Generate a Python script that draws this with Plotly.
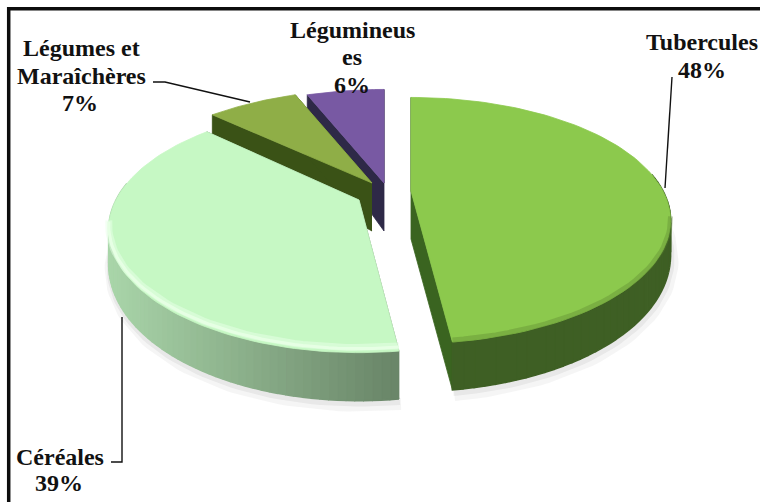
import numpy as np
import plotly.graph_objects as go

# Data, clockwise from 12 o'clock
categories = ['Tubercules', 'Céréales', 'Légumes et Maraîchères', 'Légumineuses']
shares = [48, 39, 7, 6]

# Label lines as wrapped in the chart
label_lines = [['Tubercules', '48%'],
               ['Céréales', '39%'],
               ['Légumes et', 'Maraîchères', '7%'],
               ['Légumineus', 'es', '6%']]
label_xy = [[(702, 42), (702, 70)],
            [(60, 457), (59, 483)],
            [(81, 48), (81, 76), (80, 103)],
            [(352, 30), (352, 57), (352, 85)]]
leaders = [[(672, 77), (665, 188)],
           [(111, 462), (122, 462), (122, 317)],
           [(153, 82), (165, 82), (250, 102)]]

# Look of each slice: apex of the pulled wedge, radii, colours
apex = [(411, 191), (359, 200), (372, 183), (384, 183)]
rad_x = [252, 243, 255, 255]
rad_y = [116, 116, 116, 116]
face_col = ['#8cc94d', '#c6f8c4', '#8fae47', '#7859a3']
inner_col = ['#3a6420', '#6d8a6c', '#3a5216', '#2e2947']
wall_left = ['#5f8f2f', '#aad6aa', '#3a5216', '#2e2947']   # outer wall colour at left of arc
wall_right = ['#3e5f24', '#6a8669', '#3a5216', '#2e2947']
wall_ramp = [5, 1, 1, 1]
DEPTH = 48
SIDE_DEPTH = 30
PERSP = 0.24


def project(theta, i):
    # theta clockwise from top, simple perspective so the back is smaller
    sx, cy = np.sin(theta), np.cos(theta)
    s = 1 / (1 + PERSP * cy)
    return apex[i][0] + rad_x[i] * sx * s, apex[i][1] - rad_y[i] * cy * s


def wall_depth(theta):
    # wall looks thinner at the sides than at the front
    return SIDE_DEPTH + (DEPTH - SIDE_DEPTH) * np.clip(-np.cos(theta), 0, 1)


def mix(c1, c2, t):
    a = [int(c1[k:k + 2], 16) for k in (1, 3, 5)]
    b = [int(c2[k:k + 2], 16) for k in (1, 3, 5)]
    return 'rgb(%d,%d,%d)' % tuple(a[k] + (b[k] - a[k]) * t for k in range(3))


def poly(x, y, color, width=0.8):
    return go.Scatter(x=list(x), y=list(y), mode='lines', fill='toself', fillcolor=color,
                      line=dict(color=color, width=width), hoverinfo='skip', showlegend=False)


def stroke(x, y, color, width):
    return go.Scatter(x=x, y=y, mode='lines', hoverinfo='skip', showlegend=False,
                      line=dict(color=color, width=width))


fig = go.Figure()

# Wedge angles come from the shares
edges = np.cumsum([0] + shares) / sum(shares) * 2 * np.pi

# Paint from the back to the front
for i in [3, 2, 1, 0]:
    th = np.linspace(edges[i], edges[i + 1], 90)
    ax, ay = project(th, i)
    dep = wall_depth(th)
    x0, y0 = apex[i]

    # soft shadow under the wall
    if i < 2:
        low = np.cos(th) < 0.1
        fig.add_trace(stroke(ax[low] + 2, ay[low] + dep[low] + 5, 'rgba(120,120,120,0.07)', 12))
        fig.add_trace(stroke(ax[low] + 1, ay[low] + dep[low] + 3, 'rgba(120,120,120,0.10)', 6))

    # cut faces
    for px, py, d in [(ax[0], ay[0], dep[0]), (ax[-1], ay[-1], DEPTH)]:
        fig.add_trace(poly([x0, px, px, x0], [y0, py, py + d, y0 + DEPTH], inner_col[i]))

    # outer wall as strips so the shade can change along the arc
    for k in range(0, len(th) - 1):
        if np.cos((th[k] + th[k + 1]) / 2) > 0.15:
            continue
        t = (ax[k] - ax.min()) / (ax.max() - ax.min())
        if i == 0:
            t = (ax[k] - x0) / (ax.max() - x0)
        col = mix(wall_left[i], wall_right[i], min(1, t * wall_ramp[i]))
        fig.add_trace(poly([ax[k], ax[k + 1], ax[k + 1], ax[k]],
                           [ay[k], ay[k + 1], ay[k + 1] + dep[k + 1], ay[k] + dep[k]], col, 1.6))

    # top face
    fig.add_trace(poly(np.r_[x0, ax, x0], np.r_[y0, ay, y0], face_col[i]))

    front = np.cos(th) < -0.2
    if i == 1:
        # bright bevel on the Céréales rim
        fig.add_trace(stroke(ax[front], ay[front] - 5, 'rgba(232,255,232,0.5)', 7))
        fig.add_trace(stroke(ax[front], ay[front] - 4, '#e6ffe4', 3))
    if i == 0:
        # soft dark edge on the Tubercules rim
        fig.add_trace(stroke(ax[front], ay[front] - 2, 'rgba(90,130,45,0.35)', 5))

# Labels, one annotation per line to keep the wide line pitch
for lines, spots in zip(label_lines, label_xy):
    for txt, (lx, ly) in zip(lines, spots):
        fig.add_annotation(x=lx, y=ly, text=txt, showarrow=False, xanchor='center', yanchor='middle',
                           font=dict(family='Liberation Serif', size=24, color='#111111'))

# Leader lines
for pts in leaders:
    fig.add_trace(stroke([p[0] for p in pts], [p[1] for p in pts], '#111111', 1.4))

# Only the top and left of the frame made it into the picture
fig.add_shape(type='path', path='M 8.7 502 L 8.7 8.7 L 760 8.7', xref='x', yref='y',
              line=dict(color='#0d0d0d', width=3.5))

fig.update_layout(
    width=760, height=502,
    margin=dict(l=0, r=0, t=0, b=0),
    paper_bgcolor='white',
    plot_bgcolor='white',
    showlegend=False,
    font=dict(family='Liberation Serif'),
    xaxis=dict(range=[0, 760], visible=False, fixedrange=True),
    yaxis=dict(range=[502, 0], visible=False, fixedrange=True),
)
fig.update_annotations(font_weight='bold')

fig.write_html('out.html', config=dict(displayModeBar=False),
               post_script="document.body.style.margin='0';")
